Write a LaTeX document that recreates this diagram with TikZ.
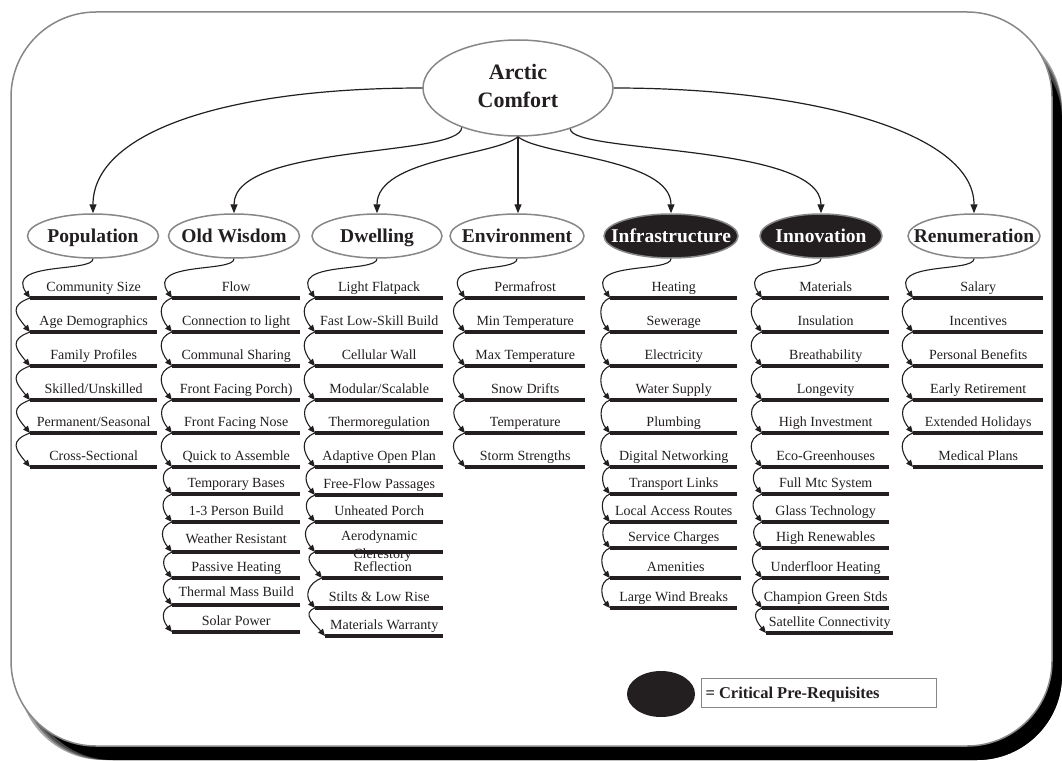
\documentclass[tikz,border=0pt]{standalone}
\usepackage{fontspec}
\setmainfont{Liberation Serif}
\usetikzlibrary{shapes.geometric, arrows.meta}
\definecolor{ink}{RGB}{35,31,32}
\definecolor{framegray}{RGB}{135,135,135}
\newcommand{\zb}[1]{\makebox[0pt]{#1}}
\newcommand{\itm}[6][]{\node[item, minimum width=#5pt, #1] (#2) at (#3,#4) {#6};}
\begin{document}
\begin{tikzpicture}[x=1pt, y=-1pt,
  item/.style={anchor=south west, inner sep=0pt, text height=10pt, text depth=6pt, font=\fontsize{14}{16}\selectfont, text=ink},
  cat/.style={ellipse, draw=framegray, line width=1.5pt, fill=white, minimum height=44pt, inner sep=0pt, text height=13pt, text depth=0pt, font=\bfseries\fontsize{19.5}{22}\selectfont, text=ink},
  crit/.style={cat, fill=ink, text=white},
  bar/.style={line width=4pt, draw=ink},
  link/.style={draw=ink, line width=1.1pt, -{Triangle[length=7pt,width=6pt]}, out=200, in=130, looseness=#1},
  link/.default=1.6,
  first/.style={draw=ink, line width=1.1pt, -{Triangle[length=7pt,width=6pt]}, out=-90, in=125, out distance=14pt, in distance=45pt},
  main/.style={draw=ink, line width=1.2pt, -{Triangle[length=9pt,width=7pt]}},
]
\useasboundingbox (0,0) rectangle (1062,760);
% frame with shadow
\foreach \s in {0,3,6}
  \fill[black, opacity=0.35, rounded corners=85pt] (18+\s,24+\s) rectangle (1062,760);
\fill[black, rounded corners=85pt] (28,36) rectangle (1062,760);
\draw[framegray, line width=1.5pt, fill=white, rounded corners=85pt] (11,12) rectangle (1052,746);

% title
\node[ellipse, draw=framegray, line width=1.5pt, fill=white, minimum width=190pt, minimum height=96pt, inner sep=0pt, font=\bfseries\fontsize{22}{28}\selectfont, text=ink] (title) at (518,88) {\zb{\begin{tabular}{@{}c@{}}Arctic\\Comfort\end{tabular}}};

% categories
\node[cat, minimum width=131pt] (pop) at (93,236) {\zb{Population}};
\node[cat, minimum width=131pt] (ow) at (234,236) {\zb{Old Wisdom}};
\node[cat, minimum width=130pt] (dw) at (377,236) {\zb{Dwelling}};
\node[cat, minimum width=134pt] (env) at (517,236) {\zb{Environment}};
\node[crit, minimum width=134pt] (inf) at (671,236) {\zb{Infrastructure}};
\node[crit, minimum width=122pt] (inn) at (821,236) {\zb{Innovation}};
\node[cat, minimum width=132pt] (ren) at (974,236) {\zb{Renumeration}};

% title arrows
\draw[main] (title.west) to[out=180,in=90,out distance=200pt,in distance=80pt] (pop.north);
\draw[main] (title.215) to[out=-90,in=90,out distance=30pt,in distance=70pt] (ow.north);
\draw[main] (title.south) to[out=-140,in=90,out distance=30pt,in distance=55pt] (dw.north);
\draw[main] (title.south) -- (title.south |- env.north);
\draw[main] (title.south) to[out=-40,in=90,out distance=30pt,in distance=55pt] (inf.north);
\draw[main] (title.322) to[out=-90,in=90,out distance=25pt,in distance=70pt] (inn.north);
\draw[main] (title.east) to[out=0,in=90,out distance=200pt,in distance=80pt] (ren.north);

% Population
\itm{P1}{30}{298}{127}{Community Size}
\itm{P2}{30}{332}{127}{Age Demographics}
\itm{P3}{30}{366}{127}{Family Profiles}
\itm{P4}{30}{400}{127}{Skilled/Unskilled}
\itm{P5}{30}{433}{127}{Permanent/Seasonal}
\itm{P6}{30}{467}{127}{Cross-Sectional}
% Old Wisdom
\itm{O1}{172}{298}{128}{Flow}
\itm{O2}{172}{332}{128}{Connection to light}
\itm{O3}{172}{366}{128}{Communal Sharing}
\itm{O4}{172}{400}{128}{Front Facing Porch)}
\itm{O5}{172}{433}{128}{Front Facing Nose}
\itm{O6}{172}{467}{128}{Quick to Assemble}
\itm{O7}{172}{494}{128}{Temporary Bases}
\itm{O8}{172}{522}{128}{1-3 Person Build}
\itm[text depth=8pt]{O9}{172}{552}{128}{Weather Resistant}
\itm{O10}{172}{578}{128}{Passive Heating}
\itm[text depth=8pt]{O11}{172}{605}{128}{Thermal Mass Build}
\itm{O12}{172}{632}{128}{Solar Power}
% Dwelling
\itm{D1}{315}{298}{128}{Light Flatpack}
\itm{D2}{315}{332}{128}{Fast Low-Skill Build}
\itm{D3}{315}{366}{128}{Cellular Wall}
\itm{D4}{315}{400}{128}{Modular/Scalable}
\itm{D5}{315}{433}{128}{Thermoregulation}
\itm{D6}{315}{467}{128}{Adaptive Open Plan}
\itm{D7}{315}{495}{128}{Free-Flow Passages}
\itm{D8}{315}{522}{128}{Unheated Porch}
\node[font=\fontsize{14}{16}\selectfont, text=ink, anchor=base, inner sep=0pt] (D10c) at (382.5,558) {Clerestory};
\itm[text depth=11pt]{D9}{315}{552}{128}{Aerodynamic}
\itm{D10}{322}{578}{121}{Reflection}
\itm{D11}{315}{608}{128}{Stilts \& Low Rise}
\itm{D12}{325}{636}{118}{Materials Warranty}
% Environment
\itm{E1}{465}{298}{120}{Permafrost}
\itm{E2}{465}{332}{120}{Min Temperature}
\itm{E3}{465}{366}{120}{Max Temperature}
\itm{E4}{465}{400}{120}{Snow Drifts}
\itm{E5}{465}{433}{120}{Temperature}
\itm{E6}{465}{467}{120}{Storm Strengths}
% Infrastructure
\itm{I1}{610}{298}{127}{Heating}
\itm{I2}{610}{332}{127}{Sewerage}
\itm{I3}{610}{366}{127}{Electricity}
\itm{I4}{610}{400}{127}{Water Supply}
\itm{I5}{610}{433}{127}{Plumbing}
\itm{I6}{610}{467}{127}{Digital Networking}
\itm{I7}{610}{494}{127}{Transport Links}
\itm{I8}{610}{522}{127}{Local Access Routes}
\itm{I9}{610}{548}{127}{Service Charges}
\itm{I10}{610}{578}{131}{Amenities}
\itm{I11}{610}{608}{127}{Large Wind Breaks}
% Innovation
\itm{N1}{762}{298}{127}{Materials}
\itm{N2}{762}{332}{127}{Insulation}
\itm{N3}{762}{366}{127}{Breathability}
\itm{N4}{762}{400}{127}{Longevity}
\itm{N5}{762}{433}{127}{High Investment}
\itm{N6}{762}{467}{127}{Eco-Greenhouses}
\itm{N7}{762}{494}{127}{Full Mtc System}
\itm{N8}{762}{522}{127}{Glass Technology}
\itm{N9}{762}{548}{127}{High Renewables}
\itm{N10}{762}{578}{127}{Underfloor Heating}
\itm{N11}{762}{608}{127}{Champion Green Stds}
\itm{N12}{766}{633}{127}{Satellite Connectivity}
% Renumeration
\itm{R1}{913}{298}{130}{Salary}
\itm{R2}{913}{332}{130}{Incentives}
\itm{R3}{913}{366}{130}{Personal Benefits}
\itm{R4}{913}{400}{130}{Early Retirement}
\itm{R5}{913}{433}{130}{Extended Holidays}
\itm{R6}{913}{467}{130}{Medical Plans}

% bars
\foreach \c/\k in {P/6,O/12,D/12,E/6,I/11,N/12,R/6}
  \foreach \i in {1,...,\k}
    \draw[bar] (\c\i.south west) -- (\c\i.south east);

% first connectors
\draw[first] (pop.south) to (P1.south west);
\draw[first] (ow.south) to (O1.south west);
\draw[first] (dw.south) to (D1.south west);
\draw[first] (env.south) to (E1.south west);
\draw[first] (inf.south) to (I1.south west);
\draw[first] (inn.south) to (N1.south west);
\draw[first] (ren.south) to (R1.south west);

% chain connectors
\foreach \c/\k/\l in {P/6/1.7,O/12/1.3,D/12/1.3,E/6/1.4,I/11/1.1,N/12/1.3,R/6/1.3}
  \foreach \i in {2,...,\k} {
    \pgfmathtruncatemacro\h{\i-1}
    \draw[link=\l] (\c\h.south west) to (\c\i.south west);
  }

% legend
\node[ellipse, fill=ink, minimum width=68pt, minimum height=46pt, inner sep=0pt] (legdot) at (661,694) {};
\node[draw=framegray, line width=1pt, minimum width=235pt, minimum height=29pt, inner sep=0pt, anchor=west, text height=12pt, text depth=0pt, font=\bfseries\fontsize{16.5}{19}\selectfont, text=ink] (legbox) at (701,692.5) {\makebox[227pt][l]{= Critical Pre-Requisites}};
\end{tikzpicture}
\end{document}
